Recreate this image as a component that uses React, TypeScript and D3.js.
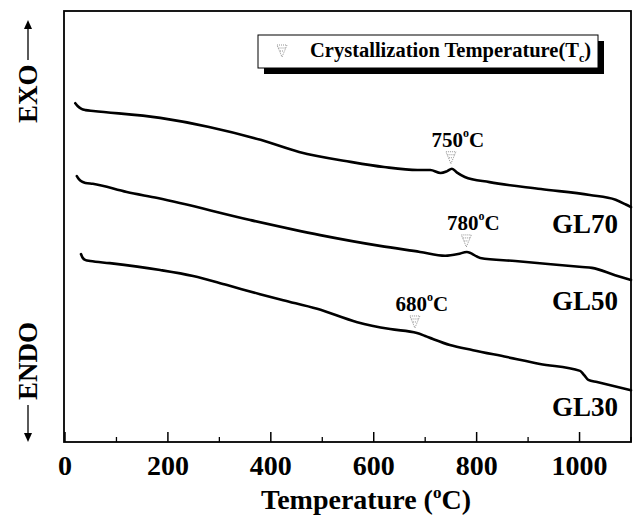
import React from 'react';
import * as d3 from 'd3';

// DTA traces (heat flow in arbitrary units)
const gl70Temp = [20, 25, 32, 40, 55, 185, 280, 380, 455, 555, 620, 685, 710, 730, 742, 752, 762, 777, 825, 925, 1020, 1070, 1090, 1100];
const gl70Flow = [78.6, 77.9, 77.3, 77.0, 76.8, 75.2, 73.1, 70.1, 67.3, 65.0, 63.8, 63.1, 63.1, 62.4, 62.8, 63.4, 62.5, 61.5, 60.3, 58.7, 57.3, 56.2, 55.1, 54.5];

const gl50Temp = [23, 27, 33, 40, 54, 120, 180, 360, 496, 612, 690, 739, 764, 781, 807, 875, 1005, 1024, 1069, 1100];
const gl50Flow = [61.7, 61.0, 60.4, 60.1, 59.9, 58.0, 56.6, 51.5, 48.0, 45.5, 44.1, 43.2, 43.6, 44.1, 42.7, 42.0, 40.6, 40.4, 38.7, 37.6];

const gl30Temp = [31, 34, 40, 49, 87, 185, 249, 315, 379, 424, 490, 568, 632, 684, 700, 715, 748, 793, 859, 923, 1001, 1009, 1017, 1034, 1100];
const gl30Flow = [43.6, 42.8, 42.2, 42.0, 41.5, 39.9, 38.5, 36.4, 34.3, 32.9, 30.9, 27.8, 26.2, 25.3, 24.6, 23.9, 22.5, 21.3, 19.7, 18.1, 16.5, 15.5, 14.4, 13.9, 12.0];

const seriesNames = ['GL70', 'GL50', 'GL30'];
const seriesLabelY = [48.5, 30.6, 6.0];
const peakTemps = [750, 780, 680];
const peakFlows = [63.4, 44.1, 25.3];
const peakLabels = ['750', '780', '680'];

const majorTicks = [0, 200, 400, 600, 800, 1000];
const minorTicks = [100, 300, 500, 700, 900, 1100];

const W = 635;
const H = 517;
const FONT = '"Liberation Serif", "Times New Roman", serif';

const x = d3.scaleLinear().domain([0, 1100]).range([65, 631]);
const y = d3.scaleLinear().domain([0, 100]).range([442, 11]);

const line = d3.line<[number, number]>()
  .x(d => x(d[0]))
  .y(d => y(d[1]))
  .curve(d3.curveMonotoneX);

const zipSeries = (t: number[], v: number[]) => t.map((tt, i) => [tt, v[i]] as [number, number]);
const series = [
  zipSeries(gl70Temp, gl70Flow),
  zipSeries(gl50Temp, gl50Flow),
  zipSeries(gl30Temp, gl30Flow),
];

// little dotted downward triangle used as the Tc marker
const Marker = ({ cx, top }: { cx: number; top: number }) => (
  <g stroke="#777" strokeWidth={0.8} fill="none" strokeDasharray="1,1">
    <path d={`M${cx - 5},${top} L${cx + 5},${top} L${cx},${top + 12} Z`} />
    <line x1={cx - 3.5} x2={cx + 3.5} y1={top + 3} y2={top + 3} />
    <line x1={cx - 2} x2={cx + 2} y1={top + 6} y2={top + 6} />
  </g>
);

const App = () => {
  return (
    <svg width={W} height={H} style={{ position: 'absolute', left: 0, top: 0, background: '#fff' }}
      fontFamily={FONT} fontWeight="bold">
      {/* frame */}
      <rect x={x(0) - 1} y={11} width={x(1100) - x(0) + 1} height={y(0) - 11}
        fill="none" stroke="#000" strokeWidth={1.8} />

      {/* ticks */}
      {majorTicks.map(t => (
        <line key={'M' + t} x1={x(t)} x2={x(t)} y1={y(0)} y2={y(0) - 10} stroke="#000" strokeWidth={1.5} />
      ))}
      {minorTicks.map(t => (
        <line key={'m' + t} x1={x(t)} x2={x(t)} y1={y(0)} y2={y(0) - 5} stroke="#000" strokeWidth={1.3} />
      ))}
      {majorTicks.map(t => (
        <text key={'l' + t} x={x(t)} y={475} textAnchor="middle" fontSize={28}>{t}</text>
      ))}

      <text x={366} y={509} textAnchor="middle" fontSize={28}>
        Temperature (<tspan fontSize={17} dy={-11}>o</tspan><tspan dy={11}>C)</tspan>
      </text>

      {/* EXO / ENDO */}
      <text transform="translate(37,123) rotate(-90)" fontSize={27}>EXO</text>
      <line x1={28} x2={28} y1={60} y2={26} stroke="#000" strokeWidth={1.3} />
      <path d="M28,20 L24,29 L32,29 Z" fill="#000" />
      <text transform="translate(37,400) rotate(-90)" fontSize={27}>ENDO</text>
      <line x1={28} x2={28} y1={405} y2={436} stroke="#000" strokeWidth={1.3} />
      <path d="M28,442 L24,433 L32,433 Z" fill="#000" />

      {/* curves */}
      {series.map((s, i) => (
        <path key={seriesNames[i]} d={line(s) || ''} fill="none" stroke="#000" strokeWidth={2.6}
          strokeLinejoin="round" strokeLinecap="round" />
      ))}

      {/* series names */}
      {seriesNames.map((n, i) => (
        <text key={n} x={618} y={y(seriesLabelY[i])} textAnchor="end" fontSize={27}>{n}</text>
      ))}

      {/* Tc markers and labels */}
      {peakTemps.map((t, i) => {
        const cx = x(t);
        const top = y(peakFlows[i]) - 17;
        return (
          <g key={'p' + t}>
            <Marker cx={cx} top={top} />
            <text x={cx + 7} y={top - 5} textAnchor="middle" fontSize={21}>
              {peakLabels[i]}<tspan fontSize={12} dy={-10}>o</tspan><tspan dy={10}>C</tspan>
            </text>
          </g>
        );
      })}

      {/* legend */}
      <rect x={264} y={41} width={340} height={33} fill="#000" />
      <rect x={258} y={35} width={340} height={33} fill="#fff" stroke="#000" strokeWidth={1} />
      <Marker cx={282} top={45} />
      <text x={310} y={57} fontSize={20.5}>
        Crystallization Temperature(T<tspan fontSize={12} dy={5}>c</tspan><tspan dy={-5}>)</tspan>
      </text>
    </svg>
  );
};

export default App;
